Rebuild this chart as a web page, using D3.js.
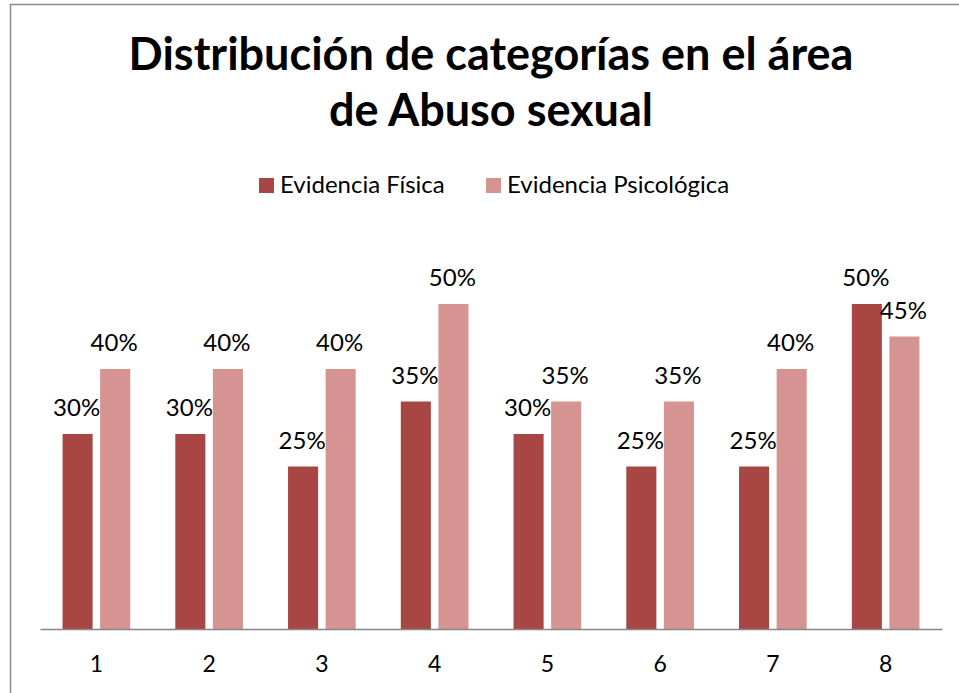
<!DOCTYPE html>
<html>
<head>
<meta charset="utf-8">
<script src="https://cdn.jsdelivr.net/npm/d3@7"></script>
<style>
  body { margin: 0; background: #fff; }
  svg { display: block; font-family: Lato, "Open Sans", sans-serif; }
</style>
</head>
<body>
<svg id="chart"></svg>
<script>
var categories = ["1", "2", "3", "4", "5", "6", "7", "8"];
var seriesNames = ["Evidencia Física", "Evidencia Psicológica"];
var fisica = [0.30, 0.30, 0.25, 0.35, 0.30, 0.25, 0.25, 0.50];
var psicologica = [0.40, 0.40, 0.40, 0.50, 0.35, 0.35, 0.40, 0.45];
var colors = ["#a84644", "#d59392"];
var titleLines = ["Distribución de categorías en el área", "de Abuso sexual"];

var w = 959, h = 693;
var svg = d3.select("#chart").attr("width", w).attr("height", h);

// chart frame (cut off at right and bottom)
svg.append("path")
  .attr("d", "M10.5," + h + "V4.5H" + w)
  .attr("fill", "none")
  .attr("stroke", "#8c8c8c")
  .attr("stroke-width", 1.5);

var x0 = d3.scaleBand().domain(categories).range([40, 942]).paddingInner(0.4).paddingOuter(0.2);
var x1 = d3.scaleBand().domain([0, 1]).range([0, x0.bandwidth()]).paddingInner(0.2);
var y = d3.scaleLinear().domain([0, 0.6]).range([629, 239]);
var fmt = d3.format(".0%");

// title
svg.append("g").selectAll("text").data(titleLines).enter().append("text")
  .attr("x", 491)
  .attr("y", function(d, i) { return 70 + i * 56; })
  .attr("text-anchor", "middle")
  .attr("font-size", 45)
  .attr("font-weight", "bold")
  .attr("fill", "#000")
  .text(function(d) { return d; });

// legend
var legendX = [259, 486];
var legend = svg.append("g").selectAll("g").data(seriesNames).enter().append("g")
  .attr("transform", function(d, i) { return "translate(" + legendX[i] + ",178)"; });
legend.append("rect").attr("width", 15).attr("height", 15)
  .attr("fill", function(d, i) { return colors[i]; });
legend.append("text").attr("x", 21).attr("y", 15)
  .attr("font-size", 24).attr("fill", "#000")
  .text(function(d) { return d; });

// bars
var rows = categories.map(function(c, i) {
  return { cat: c, vals: [fisica[i], psicologica[i]] };
});
var groups = svg.append("g").selectAll("g").data(rows).enter().append("g")
  .attr("transform", function(d) { return "translate(" + x0(d.cat) + ",0)"; });

groups.selectAll("rect").data(function(d) { return d.vals; }).enter().append("rect")
  .attr("x", function(d, i) { return x1(i); })
  .attr("y", function(d) { return y(d); })
  .attr("width", x1.bandwidth())
  .attr("height", function(d) { return y(0) - y(d); })
  .attr("fill", function(d, i) { return colors[i]; });

groups.selectAll("text").data(function(d) { return d.vals; }).enter().append("text")
  .attr("x", function(d, i) { return x1(i) + x1.bandwidth() / 2 - 1; })
  .attr("y", function(d) { return y(d) - 18; })
  .attr("text-anchor", "middle")
  .attr("font-size", 24)
  .attr("fill", "#000")
  .text(function(d) { return fmt(d); });

// x axis
var xAxis = svg.append("g")
  .attr("transform", "translate(0," + y(0) + ")")
  .call(d3.axisBottom(x0).tickSize(0).tickPadding(0));
xAxis.select(".domain").attr("stroke", "#868686").attr("stroke-width", 1.5);
xAxis.selectAll("text")
  .attr("dy", null).attr("y", 43)
  .attr("font-size", 23).attr("font-family", "Lato, sans-serif").attr("fill", "#000");
</script>
</body>
</html>
